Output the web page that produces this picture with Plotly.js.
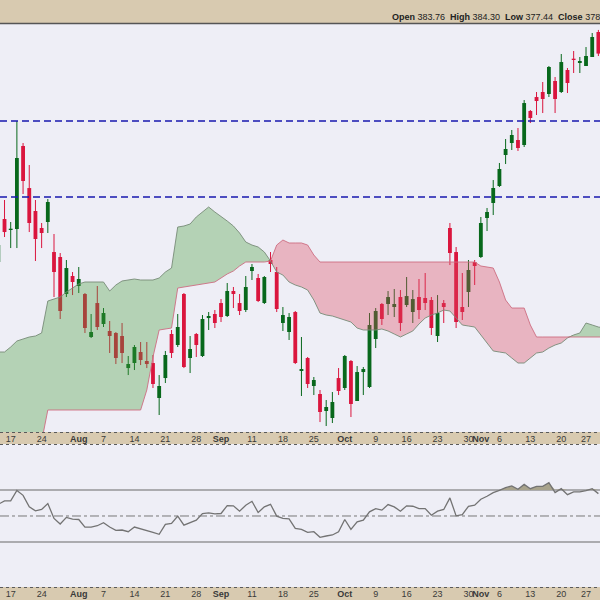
<!DOCTYPE html>
<html>
<head>
<meta charset="utf-8">
<script src="https://cdn.plot.ly/plotly-3.0.1.min.js"></script>
<style>
html,body{margin:0;padding:0;background:#eeeef6;}
#chart{width:600px;height:600px;}
</style>
</head>
<body>
<div id="chart"></div>
<script>
// ---- categories: trading days (weekends and market holidays skipped) ----
const holidays = ['2017-09-04', '2017-11-23'];
function tradingDays(startISO, count) {
  const out = [];
  const d = new Date(startISO + 'T00:00:00Z');
  while (out.length < count) {
    const wd = d.getUTCDay();
    const iso = d.toISOString().slice(0, 10);
    if (wd !== 0 && wd !== 6 && holidays.indexOf(iso) < 0) out.push(iso);
    d.setUTCDate(d.getUTCDate() + 1);
  }
  return out;
}
const dates = tradingDays('2017-07-13', 99);      // candles + one day of forward cloud
const candleDates = dates.slice(0, 98);

// ---- x tick labels ----
const tickDates = ['2017-07-17','2017-07-24','2017-08-01','2017-08-07','2017-08-14','2017-08-21','2017-08-28',
  '2017-09-01','2017-09-11','2017-09-18','2017-09-25','2017-10-02','2017-10-09','2017-10-16','2017-10-23',
  '2017-10-30','2017-11-01','2017-11-06','2017-11-13','2017-11-20','2017-11-27'];
const tickText = ['17','24','<b>Aug</b>','7','14','21','28','<b>Sep</b>','11','18','25','<b>Oct</b>','9','16','23',
  '30','<b>Nov</b>','6','13','20','27'];

// ---- OHLC ----
const open = [
  323.23,334.55,331.65,331.92,353.76,342.70,336.66,332.18,333.76,325.86,
  324.55,314.81,319.55,316.92,314.81,303.50,312.44,306.92,305.08,304.55,
  303.76,295.33,296.65,299.55,297.18,296.65,287.44,292.70,304.29,301.39,
  314.81,297.97,304.29,298.50,308.49,309.55,312.44,309.02,315.60,312.44,
  310.60,320.87,319.02,312.44,323.76,320.60,307.18,304.81,310.07,294.55,
  297.97,290.60,288.50,284.03,282.18,292.70,290.07,297.18,286.66,294.28,
  290.34,302.97,312.18,312.18,311.39,314.02,311.92,310.07,314.02,313.76,
  313.23,303.76,312.44,332.18,325.86,311.39,315.34,323.23,324.55,334.81,
  338.76,343.23,351.39,354.55,355.34,354.02,362.97,366.65,367.97,367.45,
  370.87,367.97,373.76,376.65,375.60,374.81,377.18,383.76];
const high = [
  329.02,339.55,333.76,360.34,354.55,348.76,339.55,333.50,339.81,330.60,
  325.60,323.76,320.60,321.92,315.07,309.55,316.92,311.12,307.71,304.81,
  307.18,298.50,301.39,302.18,302.18,298.76,293.49,299.82,305.34,309.55,
  315.07,303.76,304.55,309.28,310.07,310.60,313.49,317.71,316.66,314.81,
  319.55,322.71,320.08,319.55,325.86,321.92,311.39,309.81,310.34,303.50,
  298.24,292.97,289.55,286.92,289.02,295.33,298.76,297.44,295.86,295.60,
  309.81,311.12,312.44,315.60,316.13,315.86,319.29,315.86,318.76,320.34,
  314.02,314.54,313.23,333.50,327.18,320.34,323.76,323.76,335.08,337.45,
  344.81,349.29,355.60,357.97,358.50,365.86,363.23,367.97,370.60,374.81,
  371.92,377.97,374.29,378.76,377.18,379.81,383.50,384.30];
const low = [
  322.44,329.81,326.91,326.91,341.13,331.12,323.50,326.91,330.86,314.02,
  308.23,314.02,314.54,315.07,304.55,303.23,305.34,306.13,299.29,296.39,
  296.65,293.49,294.81,296.12,295.33,290.07,282.97,291.39,297.97,300.87,
  295.33,294.02,298.24,298.24,305.34,305.86,307.44,308.76,311.12,309.28,
  310.07,318.50,312.70,312.18,320.60,310.07,305.08,302.71,296.39,287.97,
  290.07,288.23,281.12,280.07,280.86,288.23,289.55,282.44,286.66,288.23,
  290.07,300.60,306.66,309.28,308.76,305.08,311.39,307.18,308.23,310.60,
  304.03,302.18,307.18,322.44,305.86,307.97,311.39,317.18,324.29,331.39,
  335.60,342.97,349.02,352.71,352.45,353.50,359.81,361.92,362.44,366.65,
  362.44,367.71,367.71,372.97,372.97,374.81,377.18,377.44];
const close = [
  327.70,331.12,331.92,350.60,344.55,333.50,329.28,330.86,339.02,320.60,
  310.34,321.65,317.97,318.76,305.86,304.81,306.13,309.81,303.76,297.97,
  299.29,296.39,300.87,297.44,296.39,291.13,290.60,298.76,299.29,306.13,
  295.60,300.34,301.39,308.23,309.02,307.18,308.76,315.60,314.81,310.34,
  316.66,321.92,312.97,319.29,322.71,310.87,309.28,308.76,296.65,295.07,
  291.13,292.18,283.76,285.08,286.39,289.29,298.50,285.87,294.28,295.07,
  306.66,310.34,308.23,314.02,312.18,307.18,314.28,313.49,310.60,312.44,
  305.86,309.81,311.39,325.60,307.44,310.07,321.13,322.18,333.50,336.39,
  342.71,347.71,352.97,356.66,353.23,365.07,361.13,365.60,366.13,374.55,
  366.13,375.86,370.34,376.39,376.13,377.45,382.44,378.08];

// ---- Ichimoku cloud spans (leading span A / B) ----
const spanA = [
  299.55,299.55,300.87,302.44,302.97,303.50,303.76,304.55,312.97,313.49,
  314.02,315.34,316.39,317.45,317.97,317.97,317.97,317.97,315.60,317.18,
  318.24,318.50,318.76,318.50,318.50,318.50,319.02,320.60,321.65,332.44,
  332.71,333.23,335.08,336.39,337.71,336.39,335.08,334.02,332.71,330.86,
  328.50,327.70,327.18,325.86,323.50,320.60,319.81,317.97,317.18,316.66,
  315.86,313.23,309.81,309.28,309.02,308.49,307.97,307.44,305.86,305.34,
  305.34,305.34,305.60,305.08,304.29,303.50,304.29,305.08,306.92,308.49,
  309.28,309.81,310.60,310.34,308.49,306.66,306.39,306.13,304.03,301.92,
  299.82,299.55,299.29,297.97,296.65,296.65,297.97,299.29,299.55,300.60,
  301.39,301.92,303.23,304.03,304.55,307.18,306.66,306.13,305.86];
const spanB = [
  276.00,276.00,276.00,276.00,276.00,276.00,276.00,276.00,284.29,284.29,
  284.29,284.29,284.29,284.29,284.29,284.29,284.29,284.29,284.29,284.29,
  284.29,284.29,284.29,284.29,289.55,298.24,305.34,305.60,305.86,316.39,
  316.66,316.92,317.18,317.45,317.71,317.97,319.02,320.08,320.87,322.18,
  323.23,323.23,323.23,323.23,323.50,327.70,329.02,328.24,328.24,328.24,
  327.70,325.07,323.23,323.23,323.23,323.23,323.23,323.23,323.23,323.23,
  323.23,323.23,323.23,323.23,323.23,323.23,323.23,323.23,323.23,323.23,
  323.23,323.23,323.23,323.23,323.23,323.23,323.23,323.23,322.18,321.92,
  321.65,317.97,313.23,311.12,311.12,311.12,306.66,303.50,303.50,303.50,
  303.50,303.50,303.50,303.50,303.50,303.50,303.50,303.50,303.50];

// ---- RSI(14) ----
const rsi = [
  59.0,61.6,61.6,69.7,65.9,57.0,54.0,55.0,59.6,48.1,
  43.8,48.9,47.6,47.3,41.5,41.5,42.5,44.8,41.5,38.9,
  39.2,37.9,41.5,40.2,39.2,37.4,35.9,43.5,44.3,49.9,
  43.0,45.0,46.8,51.9,52.4,51.7,51.9,58.0,57.8,53.7,
  58.3,61.3,52.7,57.0,59.0,49.9,48.1,47.8,40.4,39.7,
  37.4,37.9,33.6,34.6,35.4,37.9,47.3,39.7,45.5,46.8,
  53.2,55.7,54.5,58.8,57.0,53.7,57.8,57.5,55.7,55.7,
  50.6,53.7,55.0,63.9,50.1,51.1,57.5,58.3,62.9,65.2,
  68.0,69.7,71.8,73.1,70.5,74.3,71.0,72.8,72.8,75.6,
  68.0,71.0,66.4,68.5,68.5,69.5,71.0,67.2];

const resistanceLevels = [360.34, 340.34];
const rsiLevels = {upper: 70, mid: 50, lower: 30};

// ---- styles ----
const BG = 'rgb(238,238,246)';
const TAN = 'rgb(216,202,176)';
const GREEN = 'rgb(8,104,28)';
const RED = 'rgb(218,22,62)';
const CLOUD_GREEN = 'rgba(72,158,60,0.35)';
const CLOUD_RED = 'rgba(220,72,95,0.35)';
const FONT = 'Arial, "Liberation Sans", sans-serif';

const traces = [];

// candle bodies
traces.push({
  type: 'bar', x: candleDates,
  base: open.map((o, i) => Math.min(o, close[i])),
  y: open.map((o, i) => Math.max(Math.abs(close[i] - o), 0.35)),
  width: 0.62,
  marker: {color: open.map((o, i) => close[i] >= o ? GREEN : RED), line: {width: 0}},
  hoverinfo: 'skip', xaxis: 'x', yaxis: 'y'
});
// wicks
[true, false].forEach(up => {
  const xs = [], ys = [];
  candleDates.forEach((d, i) => {
    if ((close[i] >= open[i]) === up) { xs.push(d, d, null); ys.push(low[i], high[i], null); }
  });
  traces.push({type: 'scatter', mode: 'lines', x: xs, y: ys, connectgaps: false,
    line: {color: up ? GREEN : RED, width: 1}, hoverinfo: 'skip', xaxis: 'x', yaxis: 'y'});
});

// cloud (drawn translucent over the candles)
const cloudTop = spanA.map((a, i) => Math.max(a, spanB[i]));
traces.push({type: 'scatter', mode: 'lines', x: dates, y: spanB, line: {width: 0}, hoverinfo: 'skip', xaxis: 'x', yaxis: 'y'});
traces.push({type: 'scatter', mode: 'lines', x: dates, y: cloudTop, fill: 'tonexty', fillcolor: CLOUD_GREEN, line: {width: 0}, hoverinfo: 'skip', xaxis: 'x', yaxis: 'y'});
traces.push({type: 'scatter', mode: 'lines', x: dates, y: spanA, line: {width: 0}, hoverinfo: 'skip', xaxis: 'x', yaxis: 'y'});
traces.push({type: 'scatter', mode: 'lines', x: dates, y: cloudTop, fill: 'tonexty', fillcolor: CLOUD_RED, line: {width: 0}, hoverinfo: 'skip', xaxis: 'x', yaxis: 'y'});
traces.push({type: 'scatter', mode: 'lines', x: dates, y: spanA, line: {color: 'rgba(120,140,120,0.9)', width: 1}, hoverinfo: 'skip', xaxis: 'x', yaxis: 'y'});
traces.push({type: 'scatter', mode: 'lines', x: dates, y: spanB, line: {color: 'rgba(205,110,130,0.9)', width: 1}, hoverinfo: 'skip', xaxis: 'x', yaxis: 'y'});

// RSI panel
traces.push({type: 'scatter', mode: 'lines', x: candleDates, y: rsi.map(() => rsiLevels.upper), line: {width: 0}, hoverinfo: 'skip', xaxis: 'x2', yaxis: 'y2'});
traces.push({type: 'scatter', mode: 'lines', x: candleDates, y: rsi.map(v => Math.max(v, rsiLevels.upper)), fill: 'tonexty', fillcolor: 'rgb(168,163,140)', line: {width: 0}, hoverinfo: 'skip', xaxis: 'x2', yaxis: 'y2'});
traces.push({type: 'scatter', mode: 'lines', x: candleDates, y: rsi, line: {color: 'rgb(115,115,115)', width: 1.3}, hoverinfo: 'skip', xaxis: 'x2', yaxis: 'y2'});

const px = p => 1 - p / 600; // paper fraction from pixel row
const xCommon = {
  type: 'category', range: [0.27, 97.26], domain: [0, 1],
  tickmode: 'array', tickvals: tickDates, ticktext: tickText, tickangle: 0,
  ticks: '', showgrid: false, zeroline: false, showline: false,
  tickfont: {family: FONT, size: 9, color: '#3a3a3a'}, fixedrange: true
};

const shapes = [
  {type: 'rect', xref: 'paper', yref: 'paper', x0: 0, x1: 1, y0: px(23), y1: 1, fillcolor: TAN, line: {width: 0}, layer: 'below'},
  {type: 'rect', xref: 'paper', yref: 'paper', x0: 0, x1: 1, y0: px(444), y1: px(432), fillcolor: TAN, line: {width: 0}, layer: 'below'},
  {type: 'rect', xref: 'paper', yref: 'paper', x0: 0, x1: 1, y0: 0, y1: px(587), fillcolor: TAN, line: {width: 0}, layer: 'below'},
  {type: 'line', xref: 'paper', yref: 'paper', x0: 0, x1: 1, y0: px(23.5), y1: px(23.5), line: {color: 'rgb(85,85,85)', width: 1.5}},
  {type: 'line', xref: 'paper', yref: 'paper', x0: 0, x1: 1, y0: px(432.5), y1: px(432.5), line: {color: 'rgb(90,90,90)', width: 1, dash: 'dot'}},
  {type: 'line', xref: 'paper', yref: 'paper', x0: 0, x1: 1, y0: px(444.5), y1: px(444.5), line: {color: 'rgb(90,90,90)', width: 1, dash: 'dot'}},
  {type: 'line', xref: 'paper', yref: 'paper', x0: 0, x1: 1, y0: px(587.5), y1: px(587.5), line: {color: 'rgb(90,90,90)', width: 1, dash: 'dot'}}
];
resistanceLevels.forEach(v => shapes.push({type: 'line', xref: 'paper', yref: 'y', x0: 0, x1: 1, y0: v, y1: v,
  line: {color: 'rgb(25,25,175)', width: 1.6, dash: '7px,4px'}, layer: 'above'}));
shapes.push({type: 'line', xref: 'paper', yref: 'y2', x0: 0, x1: 1, y0: rsiLevels.upper, y1: rsiLevels.upper, line: {color: 'rgb(105,105,105)', width: 1.2}, layer: 'below'});
shapes.push({type: 'line', xref: 'paper', yref: 'y2', x0: 0, x1: 1, y0: rsiLevels.lower, y1: rsiLevels.lower, line: {color: 'rgb(105,105,105)', width: 1.2}, layer: 'below'});
shapes.push({type: 'line', xref: 'paper', yref: 'y2', x0: 0, x1: 1, y0: rsiLevels.mid, y1: rsiLevels.mid, line: {color: 'rgb(120,120,120)', width: 1, dash: 'dashdot'}, layer: 'below'});

const n = open.length - 1;
const f2 = v => v.toFixed(2);
const layout = {
  width: 600, height: 600,
  margin: {l: 0, r: 0, t: 0, b: 0, pad: 0},
  paper_bgcolor: BG, plot_bgcolor: 'rgba(0,0,0,0)',
  showlegend: false, hovermode: false,
  xaxis: Object.assign({anchor: 'y'}, xCommon),
  xaxis2: Object.assign({anchor: 'y2'}, xCommon),
  yaxis: {domain: [px(432), px(23)], range: [278.5, 386.13], showticklabels: false, showgrid: false, zeroline: false, fixedrange: true},
  yaxis2: {domain: [px(587), px(444)], range: [-4.62, 105.38], showticklabels: false, showgrid: false, zeroline: false, fixedrange: true},
  shapes: shapes,
  annotations: [{
    xref: 'paper', yref: 'paper', x: 390 / 600, y: px(17), xanchor: 'left', yanchor: 'middle', showarrow: false,
    text: '<b>Open</b> ' + f2(open[n]) + '\u00a0 <b>High</b> ' + f2(high[n]) + '\u00a0 <b>Low</b> ' + f2(low[n]) + '\u00a0 <b>Close</b> ' + f2(close[n]),
    font: {family: FONT, size: 9, color: '#222'}
  }]
};

Plotly.newPlot('chart', traces, layout, {staticPlot: true, displayModeBar: false});
</script>
</body>
</html>
